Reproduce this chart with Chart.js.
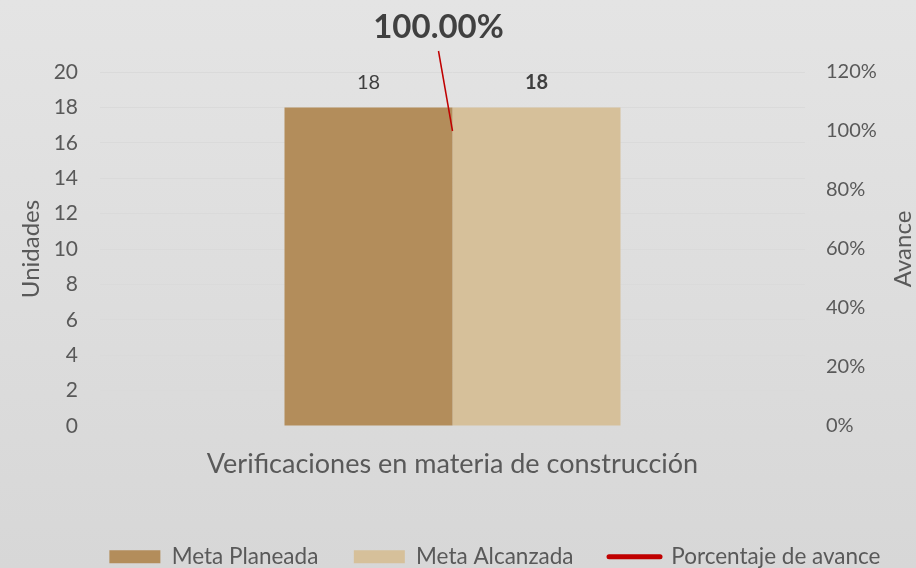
<!DOCTYPE html>
<html>
<head>
<meta charset="utf-8">
<script src="https://cdn.jsdelivr.net/npm/chart.js@4/dist/chart.umd.min.js"></script>
<style>
  html, body { margin: 0; padding: 0; }
  #wrap {
    width: 916px; height: 568px; position: relative;
    background: linear-gradient(to bottom, #e4e4e4 0%, #d7d7d7 100%);
  }
</style>
</head>
<body>
<div id="wrap"><canvas id="chart" width="916" height="568"></canvas></div>
<script>
// datos
const categories = ["Verificaciones en materia de construcción"];
const metaPlaneada = [18];
const metaAlcanzada = [18];
const porcentajeAvance = [1.0];
const unidadesTicks = { min: 0, max: 20, step: 2 };
const avanceTicks = { min: 0, max: 1.2, step: 0.2 };

const TEXT = "#595959";
const FONT = "Lato, 'Liberation Sans', sans-serif";

// etiquetas "18", "100.00%" con su linea guia y titulo del eje derecho
const labelsPlugin = {
  id: "labels",
  afterInit(chart) {
    // la leyenda queda un poco mas abajo, como en el original
    const lg = chart.legend;
    const fit = lg.fit;
    lg.fit = function () {
      fit.call(this);
      this.height -= 10;
    };
  },
  afterDatasetsDraw(chart) {
    const ctx = chart.ctx;
    ctx.save();
    ctx.fillStyle = "#404040";
    ctx.textAlign = "center";
    ctx.textBaseline = "middle";
    [0, 1].forEach((di) => {
      const meta = chart.getDatasetMeta(di);
      meta.data.forEach((bar, i) => {
        ctx.font = (di === 1 ? "bold " : "") + "20px " + FONT;
        ctx.fillText(chart.data.datasets[di].data[i], bar.x, bar.y - 25);
      });
    });

    const px = chart.scales.x.getPixelForValue(0);
    const py = chart.scales.y1.getPixelForValue(porcentajeAvance[0]);
    const lx = px - 14, ly = py - 104;
    ctx.strokeStyle = "#c00000";
    ctx.lineWidth = 1.5;
    ctx.beginPath();
    ctx.moveTo(lx, ly + 24);
    ctx.lineTo(px, py);
    ctx.stroke();
    ctx.font = "bold 33px " + FONT;
    ctx.fillText((porcentajeAvance[0] * 100).toFixed(2) + "%", lx, ly);

    // titulo "Avance" girado como en Excel
    const area = chart.chartArea;
    ctx.fillStyle = TEXT;
    ctx.font = "24px " + FONT;
    ctx.translate(903, (area.top + area.bottom) / 2);
    ctx.rotate(-Math.PI / 2);
    ctx.fillText("Avance", 0, 0);
    ctx.restore();
  },
};

new Chart("chart", {
  type: "bar",
  data: {
    labels: categories,
    datasets: [
      {
        label: "Meta Planeada",
        data: metaPlaneada,
        backgroundColor: "#b38d5b",
        borderWidth: 0,
        yAxisID: "y",
        categoryPercentage: 0.4766,
        barPercentage: 1,
      },
      {
        label: "Meta Alcanzada",
        data: metaAlcanzada,
        backgroundColor: "#d6c09a",
        borderWidth: 0,
        yAxisID: "y",
        categoryPercentage: 0.4766,
        barPercentage: 1,
      },
      {
        type: "line",
        label: "Porcentaje de avance",
        data: porcentajeAvance,
        borderColor: "#c00000",
        backgroundColor: "#c00000",
        borderWidth: 4,
        pointRadius: 0,
        yAxisID: "y1",
      },
    ],
  },
  options: {
    responsive: false,
    animation: false,
    layout: { padding: { top: 72, left: 0, right: 0, bottom: 0 } },
    plugins: {
      tooltip: { enabled: false },
      legend: {
        position: "bottom",
        align: "end",
        labels: {
          usePointStyle: true,
          pointStyleWidth: 51,
          boxHeight: 13,
          padding: 35.5,
          color: TEXT,
          font: { family: FONT, size: 22.5 },
          generateLabels: (chart) =>
            chart.data.datasets.map((ds, i) => ({
              text: ds.label,
              fillStyle: ds.backgroundColor,
              strokeStyle: ds.borderColor,
              lineWidth: ds.type === "line" ? 5 : 0,
              lineCap: "round",
              pointStyle: ds.type === "line" ? "line" : "rect",
              fontColor: TEXT,
              hidden: false,
              datasetIndex: i,
            })),
        },
      },
    },
    scales: {
      x: {
        grid: { display: false },
        border: { display: false },
        ticks: { color: TEXT, font: { family: FONT, size: 27 }, padding: 14 },
        afterFit: (s) => { s.height = 84; },
      },
      y: {
        position: "left",
        min: unidadesTicks.min,
        max: unidadesTicks.max,
        ticks: { stepSize: unidadesTicks.step, color: TEXT, font: { family: FONT, size: 21 }, padding: 22 },
        grid: { color: "#dadada", drawTicks: false },
        border: { display: false },
        title: { display: true, text: "Unidades", color: TEXT, font: { family: FONT, size: 24 }, padding: 17 },
        afterFit: (s) => { s.width = 100; },
      },
      y1: {
        position: "right",
        min: avanceTicks.min,
        max: avanceTicks.max,
        ticks: {
          stepSize: avanceTicks.step,
          color: TEXT,
          font: { family: FONT, size: 20 },
          padding: 21,
          callback: (v) => Math.round(v * 100) + "%",
        },
        grid: { display: false, drawTicks: false },
        border: { display: false },
        afterFit: (s) => { s.width = 111; },
      },
    },
  },
  plugins: [labelsPlugin],
});
</script>
</body>
</html>
